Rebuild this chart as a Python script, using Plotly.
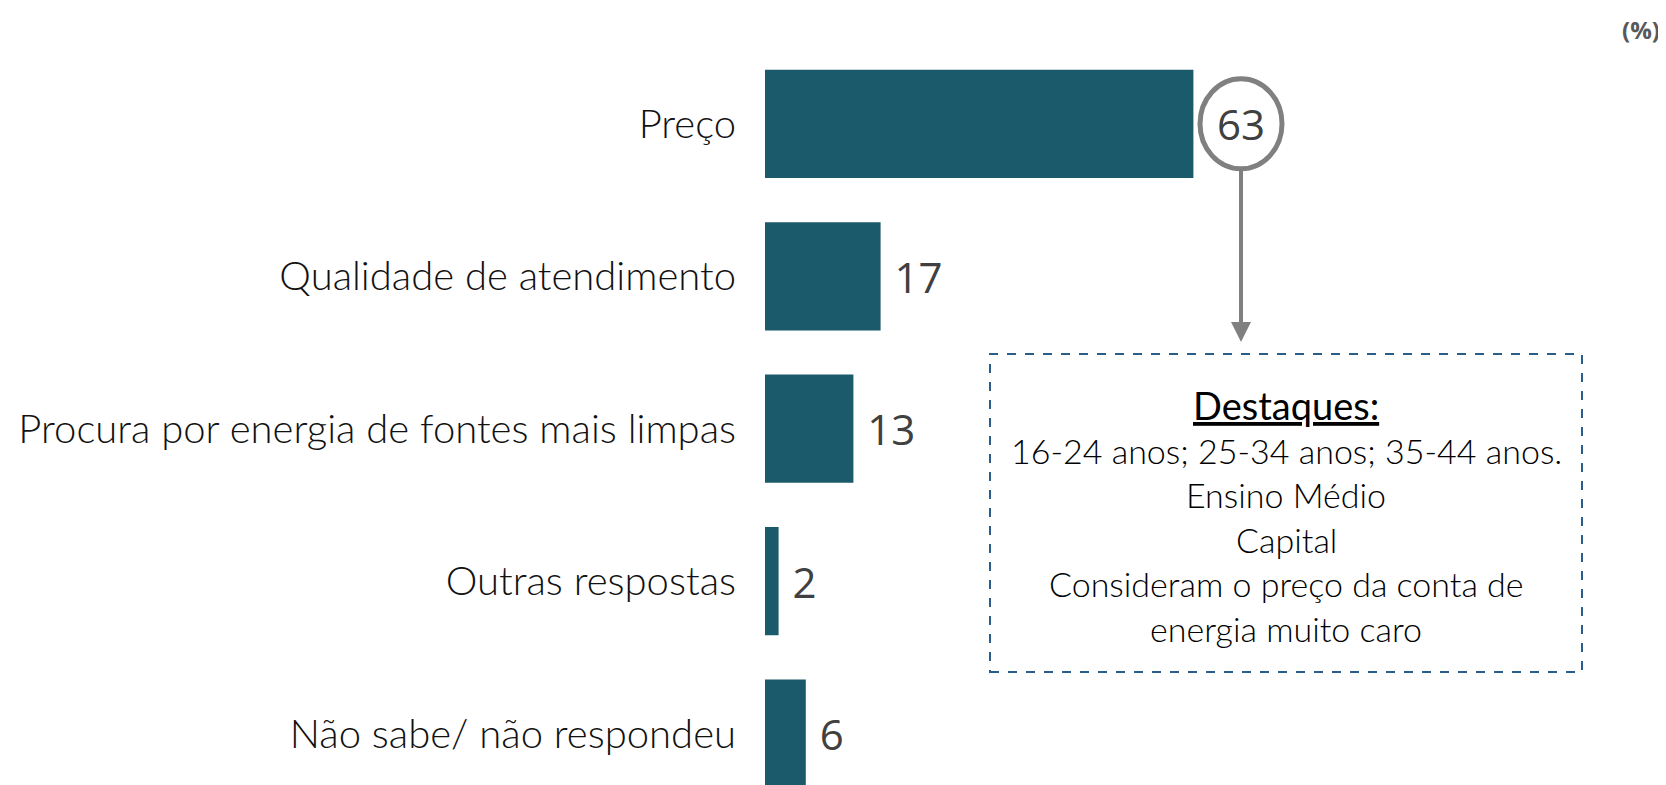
import plotly.graph_objects as go

# ================= DATA =================
categories = [
    "Preço",
    "Qualidade de atendimento",
    "Procura por energia de fontes mais limpas",
    "Outras respostas",
    "Não sabe/ não respondeu",
]
values = [63, 17, 13, 2, 6]

box_title = "Destaques:"
box_lines = [
    "16-24 anos; 25-34 anos; 35-44 anos.",
    "Ensino Médio",
    "Capital",
    "Consideram o preço da conta de",
    "energia muito caro",
]
unit_label = "(%)"

# ================= STYLE =================
W, H = 1666, 785
OFF = 8  # page body margin
BAR_COLOR = "#1B5A6A"
TEXT_DARK = "#404040"
GREY = "#808080"
BOX_BLUE = "#2A5D8A"
LABEL_FONT = "Lato"
AXIS_LEFT = 765 - OFF


def px_x(p):
    return (p - OFF) / W


def px_y(p):
    return 1 - (p - OFF) / H


pos = list(range(len(categories)))

fig = go.Figure()
fig.add_trace(go.Bar(
    x=values,
    y=pos,
    orientation="h",
    width=0.71,
    marker=dict(color=BAR_COLOR, line=dict(width=0)),
    text=[f" {v}" if i > 0 else "" for i, v in enumerate(values)],
    textposition="outside",
    cliponaxis=False,
    textfont=dict(family="Open Sans", size=42, color=TEXT_DARK),
    hoverinfo="skip",
))

# highlighted top value inside a grey ellipse
top_x = values[0] + 7
fig.add_annotation(
    x=top_x, y=0, xref="x", yref="y",
    text=str(values[0]), showarrow=False,
    font=dict(family="Open Sans", size=42, color=TEXT_DARK),
)
fig.add_shape(
    type="circle", xref="x", yref="y",
    xsizemode="pixel", ysizemode="pixel",
    xanchor=top_x, yanchor=0,
    x0=-41, x1=41, y0=-45, y1=45,
    line=dict(color=GREY, width=5), fillcolor="rgba(0,0,0,0)",
)
# arrow down to the highlights box
fig.add_annotation(
    x=top_x, y=px_y(342), xref="x", yref="paper",
    ax=0, ay=-176, axref="pixel", ayref="pixel",
    text="", showarrow=True, arrowhead=2, arrowsize=1.0,
    arrowwidth=4, arrowcolor=GREY, standoff=0, startstandoff=0,
)

# dashed highlights box
fig.add_shape(
    type="rect", xref="paper", yref="paper",
    x0=px_x(990), x1=px_x(1582), y0=px_y(672), y1=px_y(354),
    line=dict(color=BOX_BLUE, width=2, dash="dash"),
)
fig.add_annotation(
    x=px_x(1286), y=px_y(405), xref="paper", yref="paper",
    xanchor="center", yanchor="middle",
    text=f"<u>{box_title}</u>", showarrow=False,
    font=dict(family=LABEL_FONT, size=38, color="#000000"),
)
for i, line in enumerate(box_lines):
    fig.add_annotation(
        x=px_x(1286), y=px_y(450 + i * 44.5), xref="paper", yref="paper",
        xanchor="center", yanchor="middle",
        text=line, showarrow=False,
        font=dict(family=LABEL_FONT, size=34, color="#000000", weight=300),
    )

fig.add_annotation(
    x=px_x(1641), y=px_y(30), xref="paper", yref="paper",
    xanchor="center", yanchor="middle",
    text=f"<b>{unit_label}</b>", showarrow=False,
    font=dict(family="Open Sans", size=24, color="#595959"),
)

fig.update_layout(
    width=W, height=H,
    margin=dict(l=0, r=0, t=0, b=0),
    plot_bgcolor="white", paper_bgcolor="white",
    showlegend=False,
    xaxis=dict(domain=[AXIS_LEFT / W, 1], range=[0, (W - AXIS_LEFT) / 6.8],
               visible=False, fixedrange=True),
    yaxis=dict(
        range=[4.39, -0.76],
        tickmode="array", tickvals=pos, ticktext=categories,
        ticks="", showline=False, showgrid=False, zeroline=False,
        ticklabelstandoff=28,
        tickfont=dict(family=LABEL_FONT, size=40, color="#111111", weight=300),
        fixedrange=True,
    ),
)

fig.write_html("out.html")
